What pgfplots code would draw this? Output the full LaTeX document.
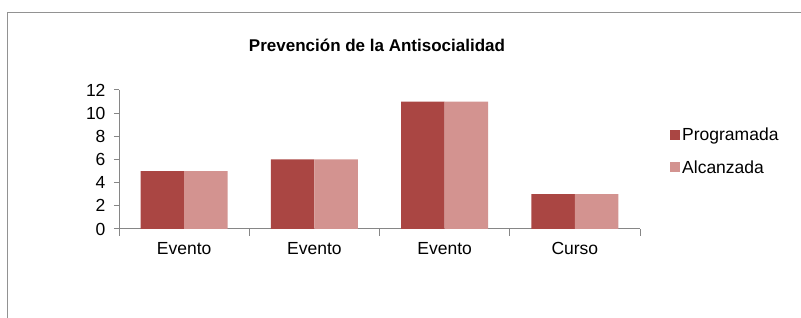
\documentclass[border=0pt]{standalone}
\usepackage{pgfplots}
\pgfplotsset{compat=1.18}
\usepackage{fontspec}
\setmainfont{Liberation Sans}
\definecolor{progc}{HTML}{AA4643}
\definecolor{alcc}{HTML}{D39390}
\definecolor{axgray}{HTML}{868686}
\begin{document}
\begin{tikzpicture}[x=1pt,y=1pt]
\useasboundingbox (0,0) rectangle (801,318);
\draw[axgray!90,line width=1.2pt] (7.5,-5) -- (7.5,305.5) -- (810,305.5);
\node[font=\bfseries\fontsize{17}{20}\selectfont] at (377,273) {Prevención de la Antisocialidad};
\begin{axis}[
  at={(119pt,89pt)}, anchor=south west,
  scale only axis, width=521pt, height=139pt,
  xmin=-0.5, xmax=3.5, ymin=0, ymax=12,
  ybar=0pt, bar width=43.5pt,
  axis x line*=bottom, axis y line*=left,
  axis line style={axgray, line width=1pt},
  xtick={0,1,2,3},
  xticklabels={Evento,Evento,Evento,Curso},
  major x tick style={draw=none},
  minor xtick={-0.5,0.5,1.5,2.5,3.5},
  minor x tick style={axgray, line width=1pt},
  minor tick length=7pt,
  ytick={0,2,4,6,8,10,12},
  major y tick style={axgray, line width=1pt},
  major tick length=5pt,
  tick align=outside,
  /pgf/number format/assume math mode=true,
  ticklabel style={font=\fontsize{17.5}{20}\selectfont, text=black},
  yticklabel style={xshift=-5pt},
  xticklabel style={anchor=base, yshift=-21pt},
  legend style={at={(1.0576,0.745)}, anchor=north west, draw=none, fill=none,
    font=\fontsize{17.5}{20}\selectfont, row sep=14.5pt,
    inner sep=0pt, /tikz/every even column/.append style={column sep=2.5pt}},
  legend cell align=left,
  legend image code/.code={\fill[#1] (0pt,-5pt) rectangle (10pt,5pt);},
]
\addplot[fill=progc, draw=none] coordinates {(0,5) (1,6) (2,11) (3,3)};
\addplot[fill=alcc, draw=none] coordinates {(0,5) (1,6) (2,11) (3,3)};
\legend{Programada,Alcanzada}
\end{axis}
\end{tikzpicture}
\end{document}
